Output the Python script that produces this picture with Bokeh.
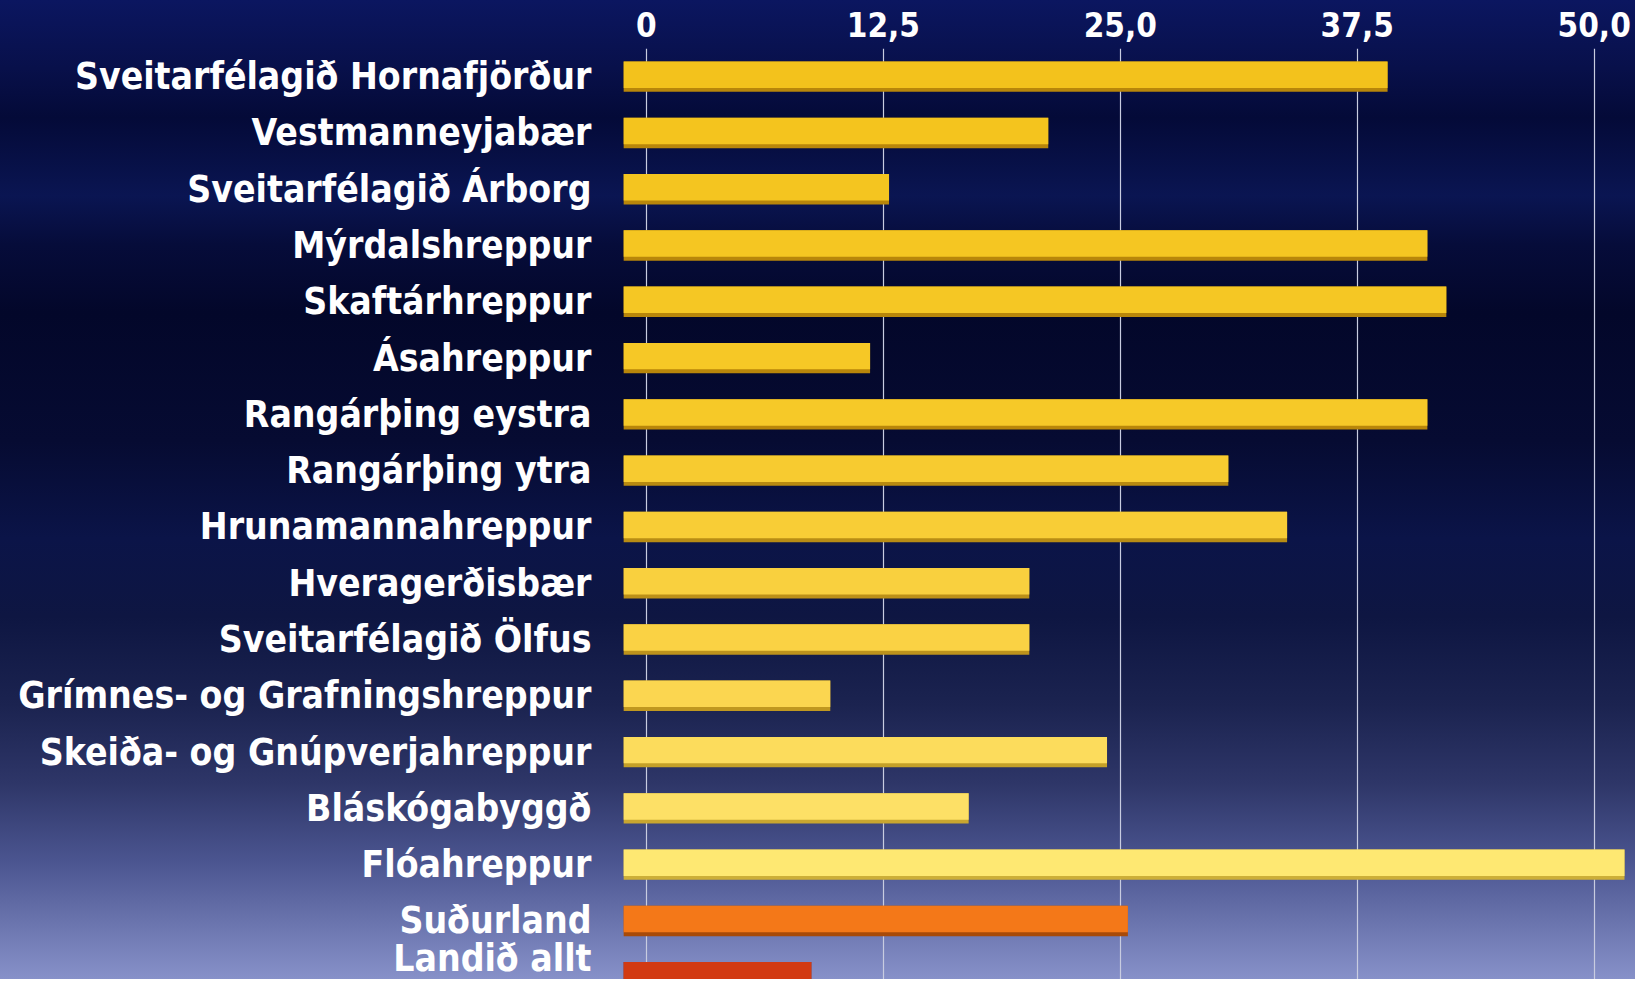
from bokeh.plotting import figure
from bokeh.models import Range1d, FixedTicker, InlineStyleSheet, ColumnDataSource
from bokeh.transform import dodge
from bokeh.embed import file_html
from bokeh.resources import INLINE

categories = [
    "Sveitarfélagið Hornafjörður",
    "Vestmanneyjabær",
    "Sveitarfélagið Árborg",
    "Mýrdalshreppur",
    "Skaftárhreppur",
    "Ásahreppur",
    "Rangárþing eystra",
    "Rangárþing ytra",
    "Hrunamannahreppur",
    "Hveragerðisbær",
    "Sveitarfélagið Ölfus",
    "Grímnes- og Grafningshreppur",
    "Skeiða- og Gnúpverjahreppur",
    "Bláskógabyggð",
    "Flóahreppur",
    "Suðurland",
    "Landið allt",
]
values = [39.1, 21.2, 12.8, 41.2, 42.2, 11.8, 41.2, 30.7, 33.8, 20.2, 20.2,
          9.7, 24.3, 17.0, 51.6, 25.4, 8.7]
tick_values = [0, 12.5, 25.0, 37.5, 50.0]
tick_labels = ["0", "12,5", "25,0", "37,5", "50,0"]

bar_colors = ["#f3c21c", "#f4c41e", "#f4c520", "#f5c622", "#f5c724", "#f6c826",
              "#f6c928", "#f7cb30", "#f8cd36", "#f9d03e", "#fad244", "#fbd650",
              "#fcdc5c", "#fde066", "#fee872", "#f47818", "#d23a12"]
edge_colors = ["#b8860a", "#b8860a", "#b8860a", "#b8860a", "#b8860a", "#b8860a",
               "#b8860a", "#b88a10", "#b88c14", "#bc9018", "#bc921c", "#c09820",
               "#c4a028", "#c8a630", "#ccae38", "#a84a08", "#8a1e06"]

FONT = "Liberation Sans Narrow, DejaVu Sans Condensed, sans-serif"
n = len(categories)
ys = list(range(n))

src = ColumnDataSource(dict(y=ys, value=values, color=bar_colors, edge=edge_colors))

W, H = 1635, 979
css = InlineStyleSheet(css=""":host { background: linear-gradient(180deg,
 #0b1660 0%, #08104a 7%, #040a38 12%, #0a1552 20%, #060c3a 25%,
 #03072a 32%, #060b32 45%, #0b1448 55%, #0e1642 63%, #1b2350 72%,
 #2e3668 80%, #4b5590 88%, #8791c9 100%); }""")

p = figure(width=W, height=H, output_backend="svg", toolbar_location=None,
           x_range=Range1d(-2.0, 52.18), y_range=Range1d(16.04, -0.5),
           x_axis_location="above", min_border_left=608, min_border_right=0,
           min_border_top=48, min_border_bottom=0)
p.stylesheets = [css]
p.background_fill_alpha = 0
p.border_fill_alpha = 0
p.outline_line_color = None

# depth / shadow layer of each bar
p.hbar(y="y", left=-1.2, right="value", height=0.54, fill_color="edge",
       line_color=None, source=src)
# front face of each bar
p.hbar(y=dodge("y", -0.035, range=p.y_range), left=-1.2, right="value",
       height=0.47, fill_color="color", line_color=None, source=src)

xa = p.xaxis[0]
xa.ticker = FixedTicker(ticks=tick_values)
xa.major_label_overrides = {v: l for v, l in zip(tick_values, tick_labels)}
xa.axis_line_color = None
xa.major_tick_line_color = None
xa.minor_tick_line_color = None
xa.major_label_text_color = "white"
xa.major_label_text_font = FONT
xa.major_label_text_font_style = "bold"
xa.major_label_text_font_size = "33px"
xa.major_label_standoff = 6

ya = p.yaxis[0]
ya.ticker = FixedTicker(ticks=ys)
ya.major_label_overrides = {i: c for i, c in zip(ys, categories)}
ya.axis_line_color = None
ya.major_tick_line_color = None
ya.minor_tick_line_color = None
ya.major_label_text_color = "white"
ya.major_label_text_font = FONT
ya.major_label_text_font_style = "bold"
ya.major_label_text_font_size = "37px"
ya.major_label_standoff = 11

p.xgrid.ticker = FixedTicker(ticks=tick_values)
p.xgrid.grid_line_color = "#c8cce0"
p.xgrid.grid_line_width = 1.2
p.ygrid.grid_line_color = None

open("out.html", "w").write(file_html(p, INLINE))
